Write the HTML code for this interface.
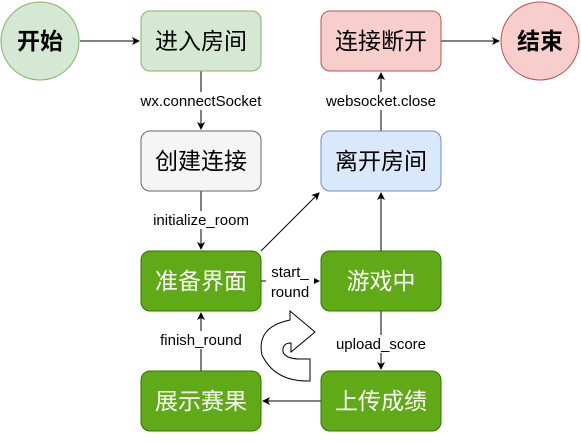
<!DOCTYPE html>
<html><head><meta charset="utf-8"><style>
body{margin:0;background:#fff;}
svg text{font-family:"Liberation Sans","Noto Sans CJK SC",sans-serif;}
</style></head><body>
<svg width="581" height="439" viewBox="0 0 581 439" xmlns="http://www.w3.org/2000/svg">
<defs><marker id="a" markerWidth="8" markerHeight="8" refX="7" refY="4" orient="auto" markerUnits="userSpaceOnUse"><path d="M0,0 L8,4 L0,8 L2,4 Z" fill="#000"/></marker></defs>
<g stroke="#000" stroke-width="1" fill="none" marker-end="url(#a)">
<line x1="80" y1="41" x2="139" y2="41"/>
<line x1="441" y1="41" x2="499" y2="41"/>
<line x1="201" y1="71" x2="201" y2="129"/>
<line x1="201" y1="191" x2="201" y2="249"/>
<line x1="381" y1="131" x2="381" y2="73"/>
<line x1="261" y1="251" x2="319" y2="193"/>
<line x1="381" y1="251" x2="381" y2="193"/>
<line x1="261" y1="281" x2="319" y2="281"/>
<line x1="381" y1="311" x2="381" y2="369"/>
<line x1="321" y1="401" x2="263" y2="401"/>
<line x1="201" y1="371" x2="201" y2="313"/>
</g>
<circle cx="40" cy="41" r="39" fill="#d5e8d4" stroke="#82b366"/>
<circle cx="540" cy="41" r="39" fill="#f8cecc" stroke="#b85450"/>
<rect x="141" y="11" width="120" height="60" rx="9" fill="#d5e8d4" stroke="#82b366"/>
<rect x="321" y="11" width="120" height="60" rx="9" fill="#f8cecc" stroke="#b85450"/>
<rect x="141" y="131" width="120" height="60" rx="9" fill="#f5f5f5" stroke="#666"/>
<rect x="321" y="131" width="120" height="60" rx="9" fill="#dae8fc" stroke="#6c8ebf"/>
<g fill="#60a917" stroke="#2d7600">
<rect x="141" y="251" width="120" height="60" rx="9"/>
<rect x="321" y="251" width="120" height="60" rx="9"/>
<rect x="141" y="371" width="120" height="60" rx="9"/>
<rect x="321" y="371" width="120" height="60" rx="9"/>
</g>
<path d="M290,311 L315,332 L291,352 L291,343 Q282,343 283,352 Q286,359 300,359 L310,359 L310,381 Q275,382 262,355 Q256,327 290,320 Z" fill="#fff" stroke="#000"/>
<g font-size="23" text-anchor="middle">
<text x="40" y="49" font-weight="bold">开始</text>
<text x="540" y="49" font-weight="bold">结束</text>
<text x="201" y="49">进入房间</text>
<text x="381" y="49">连接断开</text>
<text x="201" y="169">创建连接</text>
<text x="381" y="169">离开房间</text>
<g fill="#fff">
<text x="201" y="289">准备界面</text>
<text x="381" y="289">游戏中</text>
<text x="201" y="409">展示赛果</text>
<text x="381" y="409">上传成绩</text>
</g>
</g>
<g font-size="15" text-anchor="middle">
<rect x="132" y="92" width="138" height="18" fill="#fff"/>
<text x="201" y="106">wx.connectSocket</text>
<rect x="316" y="92" width="130" height="18" fill="#fff"/>
<text x="381" y="106">websocket.close</text>
<rect x="144" y="211" width="114" height="18" fill="#fff"/>
<text x="201" y="225">initialize_room</text>
<rect x="266" y="262" width="48" height="38" fill="#fff"/>
<text x="290" y="277">start_</text>
<text x="290" y="297">round</text>
<rect x="327" y="335" width="108" height="18" fill="#fff"/>
<text x="381" y="349">upload_score</text>
<rect x="150" y="331" width="102" height="18" fill="#fff"/>
<text x="201" y="345">finish_round</text>
</g>
</svg>
</body></html>
